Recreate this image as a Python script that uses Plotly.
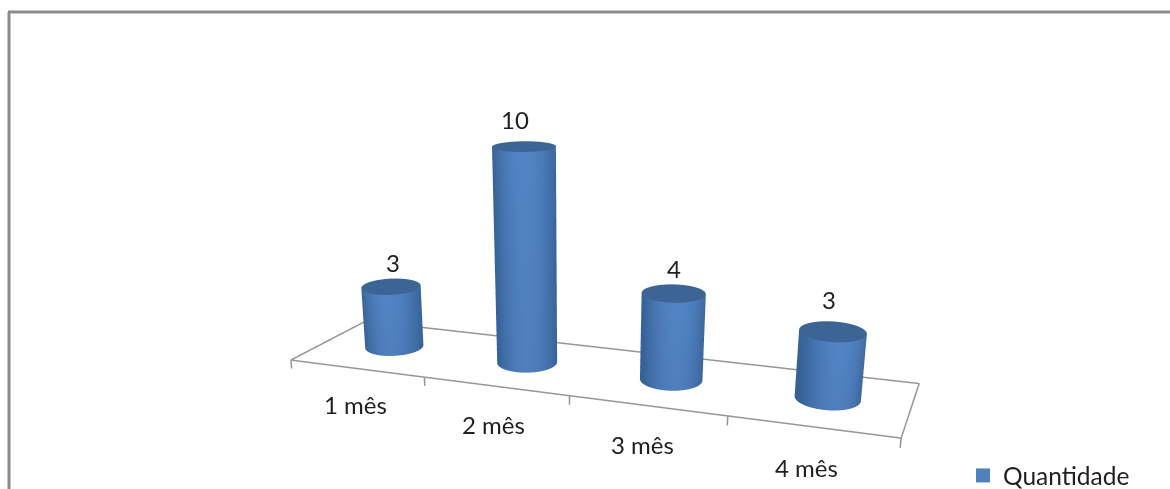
import numpy as np
import plotly.graph_objects as go

# Chart content
categories = ["1 mês", "2 mês", "3 mês", "4 mês"]
values = [3, 10, 4, 3]
series_name = "Quantidade"

# Placement of the value labels relative to each column top
label_lift = [1.2, 1.15, 1.1, 1.42]
label_xshift = [3, -9, 0, -6]

# Scene geometry. The eye sits at the origin looking along +y, so x runs to the
# right of the view, y runs into the view and z runs upward.
FLOOR_ORIGIN = np.array([-0.4983, 1.0, -0.1958])
FLOOR_WIDTH = np.array([0.9482, -0.16, -0.0797])
FLOOR_DEPTH = np.array([0.0869, 0.1082, 0.0521])
UNIT_UP = np.array([0.0001, -0.00621, 0.03537])
RING_X = np.array([0.0505, 0.0, 0.0])
RING_Y = np.array([0.0, 0.024, 0.0125])
COLUMN_ROW = 0.52

EDGE_RGB = np.array([56, 100, 155])
MID_RGB = np.array([82, 132, 196])
CAP_RGB = (60, 101, 150)
GRID = "#969696"
TEXT = "#1f1f1f"
FONT = "Lato"


def floor_point(s, t):
    return FLOOR_ORIGIN + s * FLOOR_WIDTH + t * FLOOR_DEPTH


def rgb(c):
    return "rgb(%d,%d,%d)" % tuple(np.round(c).astype(int))


def cylinder(base, value, segments=96):
    """Mesh for one column: a shaded side wall and a flat top cap."""
    theta = np.linspace(0, 2 * np.pi, segments, endpoint=False)
    ring = np.outer(np.cos(theta), RING_X) + np.outer(np.sin(theta), RING_Y)
    top = base + value * UNIT_UP
    lateral = np.cos(theta)
    glow = np.clip(1 - np.abs(lateral - 0.05) ** 2.0, 0, 1)[:, None]
    side = EDGE_RGB + (MID_RGB - EDGE_RGB) * glow

    pts = np.vstack([base + ring, top + ring, top + ring, [top]])
    colors = [rgb(c * 0.96) for c in side] + [rgb(c) for c in side]
    colors += [rgb(np.array(CAP_RGB))] * (segments + 1)

    i, j, k = [], [], []
    for n in range(segments):
        m = (n + 1) % segments
        i += [n, m]
        j += [m, segments + m]
        k += [segments + n, segments + n]
        i.append(2 * segments + n)
        j.append(2 * segments + m)
        k.append(3 * segments)
    return go.Mesh3d(
        x=pts[:, 0], y=pts[:, 1], z=pts[:, 2], i=i, j=j, k=k,
        vertexcolor=colors, flatshading=False, showlegend=False, hoverinfo="skip",
        lighting=dict(ambient=1, diffuse=0, specular=0, fresnel=0, roughness=1),
    )


fig = go.Figure()
count = len(categories)
bases = [floor_point((n + 0.5) / count, COLUMN_ROW) for n in range(count)]

# Floor outline with tick marks on its front edge
corners = [floor_point(0, 0), floor_point(1, 0), floor_point(1, 1), floor_point(0, 1), floor_point(0, 0)]
line_x, line_y, line_z = [p[0] for p in corners], [p[1] for p in corners], [p[2] for p in corners]
for n in range(count + 1):
    p = floor_point(n / count, 0)
    q = p - 0.42 * UNIT_UP
    line_x += [None, p[0], q[0]]
    line_y += [None, p[1], q[1]]
    line_z += [None, p[2], q[2]]
fig.add_trace(go.Scatter3d(
    x=line_x, y=line_y, z=line_z, mode="lines", line=dict(color=GRID, width=3),
    showlegend=False, hoverinfo="skip",
))

for base, value in zip(bases, values):
    fig.add_trace(cylinder(base, value))

# Legend entry for the single series
fig.add_trace(go.Scatter3d(
    x=[None], y=[None], z=[None], mode="markers", name=series_name,
    marker=dict(symbol="square", size=14, color="#4f81bd"), showlegend=True,
))

annotations = []
for base, value, lift, shift in zip(bases, values, label_lift, label_xshift):
    p = base + (value + lift) * UNIT_UP
    annotations.append(dict(
        x=p[0], y=p[1], z=p[2], text=str(value), showarrow=False, xshift=shift,
        xanchor="center", yanchor="middle", font=dict(family=FONT, size=24, color=TEXT),
    ))
for n, name in enumerate(categories):
    p = floor_point((n + 0.5) / count, 0) - 1.8 * UNIT_UP
    annotations.append(dict(
        x=p[0], y=p[1], z=p[2], text=name, showarrow=False, xshift=-3,
        xanchor="center", yanchor="middle", font=dict(family=FONT, size=24, color=TEXT),
    ))

hidden = dict(visible=False, range=[-2, 2], autorange=False)
fig.update_layout(
    width=1170, height=489, margin=dict(l=0, r=0, t=0, b=0, autoexpand=False),
    paper_bgcolor="white", plot_bgcolor="white", dragmode=False,
    scene=dict(
        domain=dict(x=[0, 1], y=[0, 1]),
        xaxis=hidden, yaxis=hidden, zaxis=hidden,
        aspectmode="manual", aspectratio=dict(x=4, y=4, z=4),
        camera=dict(
            eye=dict(x=0, y=0, z=0), center=dict(x=0, y=1, z=0), up=dict(x=0, y=0, z=1),
            projection=dict(type="perspective"),
        ),
        annotations=annotations,
    ),
    legend=dict(
        x=963 / 1170, y=1 - 453 / 489, xanchor="left", yanchor="top",
        bgcolor="rgba(0,0,0,0)", font=dict(family=FONT, size=24.5, color=TEXT),
        itemwidth=30,
    ),
    shapes=[
        dict(type="line", xref="paper", yref="paper", x0=9 / 1170, x1=9 / 1170,
             y0=0, y1=1 - 12 / 489, line=dict(color="#8c8c8c", width=3)),
        dict(type="line", xref="paper", yref="paper", x0=8 / 1170, x1=1,
             y0=1 - 12 / 489, y1=1 - 12 / 489, line=dict(color="#8c8c8c", width=3)),
    ],
)

fig.write_html("out.html", config=dict(displayModeBar=False))
